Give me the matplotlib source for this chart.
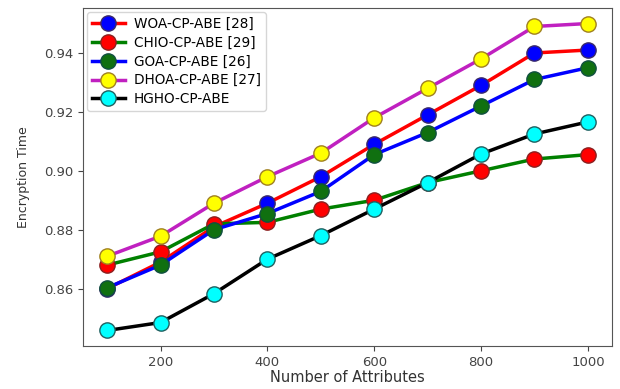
import numpy as np
import matplotlib
matplotlib.use("Agg")
import matplotlib.pyplot as plt

attrs = [100, 200, 300, 400, 500, 600, 700, 800, 900, 1000]

woa = [0.860, 0.869, 0.881, 0.889, 0.898, 0.909, 0.919, 0.929, 0.940, 0.941]
chio = [0.868, 0.8725, 0.882, 0.8825, 0.887, 0.890, 0.896, 0.900, 0.904, 0.9055]
goa = [0.8603, 0.868, 0.880, 0.8855, 0.893, 0.9055, 0.913, 0.922, 0.931, 0.935]
dhoa = [0.871, 0.8778, 0.889, 0.898, 0.906, 0.918, 0.928, 0.938, 0.949, 0.950]
hgho = [0.8458, 0.8485, 0.8583, 0.870, 0.878, 0.887, 0.896, 0.9057, 0.9125, 0.9166]

fig = plt.figure(figsize=(6.2, 3.89), dpi=100)
ax = fig.add_axes([0.134, 0.111, 0.853, 0.868])

ms = 11
lw = 2.5
ax.plot(attrs, woa, '-o', color='red', mfc='blue', mec='#3a2a6a', ms=ms, lw=lw, label='WOA-CP-ABE [28]')
ax.plot(attrs, chio, '-o', color='green', mfc='red', mec='#8a2020', ms=ms, lw=lw, label='CHIO-CP-ABE [29]')
ax.plot(attrs, goa, '-o', color='blue', mfc='#107010', mec='#105040', ms=ms, lw=lw, label='GOA-CP-ABE [26]')
ax.plot(attrs, dhoa, '-o', color='#c020c0', mfc='yellow', mec='#a08020', ms=ms, lw=lw, label='DHOA-CP-ABE [27]')
ax.plot(attrs, hgho, '-o', color='black', mfc='cyan', mec='#206060', ms=ms, lw=lw, label='HGHO-CP-ABE')

ax.set_xticks([200, 400, 600, 800, 1000])
ax.set_yticks([0.86, 0.88, 0.90, 0.92, 0.94])
ax.tick_params(labelsize=9.5, colors='#444444')
ax.set_xlabel('Number of Attributes', fontsize=10.5, color='#333333', labelpad=1)
ax.set_ylabel('Encryption Time', fontsize=9, color='#333333', labelpad=10)
for s in ax.spines.values():
    s.set_color('#555555')

ax.legend(loc='upper left', fontsize=9.8, handlelength=2.4, borderpad=0.35,
          labelspacing=0.35, handletextpad=0.7, borderaxespad=0.3)

fig.savefig('out.png', dpi=100)
